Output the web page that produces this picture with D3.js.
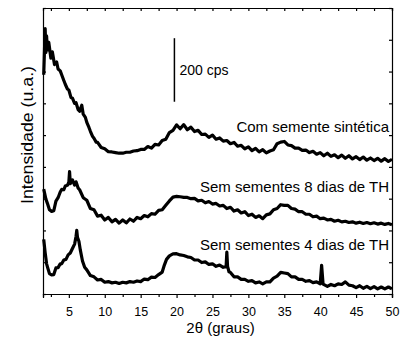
<!DOCTYPE html>
<html>
<head>
<meta charset="utf-8">
<script src="https://cdn.jsdelivr.net/npm/d3@7"></script>
<style>
  body { margin: 0; background: #fff; }
  svg { display: block; font-family: "Liberation Sans", Arial, sans-serif; }
  .axis path, .axis line { stroke: #000; stroke-width: 1.2; }
  .axis text { font-size: 12.5px; fill: #000; }
</style>
</head>
<body>
<script>
// 2theta (graus) vs intensidade (cps)
var comSemente = [
  [1.5, 690], [1.7, 835], [1.8, 760], [1.9, 812], [2.0, 768], [2.2, 792], [2.5, 742], [2.7, 762],
  [3.0, 722], [3.3, 730], [3.5, 708], [3.8, 702], [4.0, 690], [4.3, 672], [4.5, 660], [4.8, 645],
  [5.0, 642], [5.3, 618], [5.5, 616], [5.8, 600], [6.0, 602], [6.3, 580], [6.5, 575], [6.8, 594],
  [7.0, 566], [7.3, 556], [7.5, 540], [7.8, 524], [8.0, 512], [8.3, 496], [8.5, 490], [8.8, 478],
  [9.0, 477], [9.5, 461], [10, 457], [10.5, 448], [11, 447], [11.5, 445], [12, 443], [12.5, 443],
  [13, 446], [13.5, 446], [14, 450], [14.5, 451], [15, 455], [15.5, 455], [16, 464], [16.5, 459],
  [17, 471], [17.5, 469], [18, 483], [18.5, 487], [19, 508], [19.5, 515], [20, 532], [20.5, 520],
  [21, 533], [21.5, 517], [22, 525], [22.5, 511], [23, 515], [23.5, 502], [24, 503], [24.5, 493],
  [25, 500], [25.5, 487], [26, 491], [26.5, 481], [27, 483], [27.5, 473], [28, 477], [28.5, 465],
  [29, 468], [29.5, 457], [30, 463], [30.5, 451], [31, 458], [31.5, 447], [32, 454], [32.5, 444],
  [33, 450], [33.5, 454], [34, 473], [34.5, 478], [35, 480], [35.5, 469], [36, 467], [36.5, 459],
  [37, 459], [37.5, 452], [38, 453], [38.5, 445], [39, 449], [39.5, 440], [40, 445], [40.5, 435],
  [41, 443], [41.5, 433], [42, 438], [42.5, 429], [43, 437], [43.5, 427], [44, 435], [44.5, 425],
  [45, 432], [45.5, 423], [46, 431], [46.5, 421], [47, 428], [47.5, 420], [48, 427], [48.5, 418],
  [49, 426], [49.5, 417], [50, 424]
];

var semSementes8 = [
  [1.5, 330], [1.8, 299], [2.0, 286], [2.3, 265], [2.6, 260], [2.9, 262], [3.2, 292], [3.5, 303],
  [3.8, 321], [4.0, 329], [4.3, 328], [4.5, 340], [4.8, 342], [5.0, 352], [5.1, 385], [5.2, 347],
  [5.5, 359], [5.8, 343], [6.0, 353], [6.3, 333], [6.5, 328], [7.0, 303], [7.5, 295], [8.0, 269],
  [8.5, 265], [9.0, 245], [9.5, 248], [10, 233], [10.5, 241], [11, 227], [11.5, 235], [12, 223],
  [12.5, 233], [13, 224], [13.5, 236], [14, 229], [14.5, 241], [15, 237], [15.5, 247], [16, 243],
  [16.5, 253], [17, 251], [17.5, 263], [18, 265], [18.5, 279], [19, 293], [19.5, 305], [20, 307],
  [20.5, 306], [21, 304], [21.5, 304], [22, 300], [22.5, 301], [23, 293], [23.5, 295], [24, 287],
  [24.5, 291], [25, 283], [25.5, 285], [26, 277], [26.5, 279], [27, 269], [27.5, 273], [28, 261],
  [28.5, 265], [29, 255], [29.5, 259], [30, 247], [30.5, 251], [31, 241], [31.5, 246], [32, 237],
  [32.5, 249], [33, 252], [33.5, 265], [34, 269], [34.5, 281], [35, 279], [35.5, 279], [36, 269],
  [36.5, 267], [37, 259], [37.5, 259], [38, 251], [38.5, 251], [39, 243], [39.5, 245], [40, 237],
  [40.5, 239], [41, 233], [41.5, 235], [42, 229], [42.5, 232], [43, 227], [43.5, 229], [44, 225],
  [44.5, 227], [45, 223], [45.5, 226], [46, 222], [46.5, 225], [47, 221], [47.5, 224], [48, 220],
  [48.5, 223], [49, 219], [49.5, 222], [50, 218]
];

var semSementes4 = [
  [1.5, 172], [1.7, 130], [1.9, 95], [2.1, 79], [2.3, 64], [2.6, 60], [2.9, 61], [3.2, 82],
  [3.5, 83], [3.8, 95], [4.0, 95], [4.3, 107], [4.6, 109], [4.9, 123], [5.2, 129], [5.5, 143],
  [5.8, 157], [6.0, 181], [6.1, 200], [6.2, 178], [6.4, 166], [6.6, 138], [6.9, 104], [7.2, 84],
  [7.5, 76], [8.0, 58], [8.5, 54], [9.0, 44], [9.5, 46], [10, 37], [10.5, 39], [11, 35],
  [11.5, 37], [12, 33], [12.5, 37], [13, 35], [13.5, 39], [14, 37], [14.5, 41], [15, 39],
  [15.5, 47], [16, 45], [16.5, 53], [17, 52], [17.5, 61], [18, 69], [18.3, 91], [18.6, 109],
  [19, 120], [19.5, 126], [20, 127], [20.5, 123], [21, 121], [21.5, 117], [22, 115], [22.5, 107],
  [23, 107], [23.5, 99], [24, 101], [24.5, 93], [25, 95], [25.5, 87], [26, 91], [26.5, 84],
  [26.9, 86], [27.0, 132], [27.1, 87], [27.3, 70], [27.5, 68], [28, 54], [28.5, 54], [29, 46],
  [29.5, 46], [30, 40], [30.5, 42], [31, 35], [31.5, 38], [32, 32], [32.5, 38], [33, 38],
  [33.5, 50], [34, 56], [34.5, 68], [35, 66], [35.5, 64], [36, 54], [36.5, 54], [37, 46],
  [37.5, 46], [38, 40], [38.5, 42], [39, 36], [39.5, 38], [40, 32], [40.2, 90], [40.4, 31],
  [41, 24], [41.5, 30], [42, 26], [42.5, 32], [43, 30], [43.5, 38], [44, 28], [44.5, 26],
  [45, 20], [45.5, 26], [46, 18], [46.5, 24], [47, 17], [47.5, 23], [48, 16], [48.5, 22],
  [49, 16], [49.5, 22], [50, 16]
];

var seriesNames = ["Com semente sintética", "Sem sementes 8 dias de TH", "Sem sementes 4 dias de TH"];
var labelCps = [510, 321, 138]; // baseline of each label, in cps
var majorTicks = [5, 10, 15, 20, 25, 30, 35, 40, 45, 50];
var minorTicks = [2.5, 7.5, 12.5, 17.5, 22.5, 27.5, 32.5, 37.5, 42.5, 47.5];
var yTicks = [0, 100, 200, 300, 400, 500, 600, 700, 800, 900];
var scaleBar = [19.7, 605, 805]; // 2theta, from cps, to cps

var width = 406,
  height = 341,
  margin = { top: 8, right: 14, bottom: 47, left: 43 };

var svg = d3
  .select("body")
  .append("svg")
  .attr("width", width)
  .attr("height", height);

var x = d3
  .scaleLinear()
  .domain([1.4, 50])
  .range([margin.left, width - margin.right]);

var y = d3
  .scaleLinear()
  .domain([0, 900])
  .range([height - margin.bottom, margin.top]);

var line = d3
  .line()
  .x(function(d) {
    return x(d[0]);
  })
  .y(function(d) {
    return y(d[1]);
  });

// traces
[comSemente, semSementes8, semSementes4].forEach(function(s) {
  svg
    .append("path")
    .datum(s)
    .attr("d", line)
    .attr("fill", "none")
    .attr("stroke", "#000")
    .attr("stroke-width", 3.2)
    .attr("stroke-linejoin", "round");
});

// axes
var bottom = height - margin.bottom;
svg
  .append("g")
  .attr("class", "axis")
  .attr("transform", "translate(0," + bottom + ")")
  .call(d3.axisBottom(x).tickValues(majorTicks).tickSize(4).tickPadding(9).tickFormat(d3.format("d")));
svg
  .append("g")
  .attr("class", "axis")
  .attr("transform", "translate(0," + bottom + ")")
  .call(d3.axisBottom(x).tickValues(minorTicks).tickSize(3).tickFormat(""));
svg
  .append("g")
  .attr("class", "axis")
  .attr("transform", "translate(0," + margin.top + ")")
  .call(d3.axisTop(x).tickValues(majorTicks.concat(minorTicks)).tickSize(-3).tickFormat(""));
svg
  .append("g")
  .attr("class", "axis")
  .attr("transform", "translate(" + margin.left + ",0)")
  .call(d3.axisLeft(y).tickValues(yTicks).tickSize(-3).tickFormat(""));
svg
  .append("g")
  .attr("class", "axis")
  .attr("transform", "translate(" + (width - margin.right) + ",0)")
  .call(d3.axisRight(y).tickValues(yTicks).tickSize(-3).tickFormat(""));

svg.selectAll(".axis .domain").attr("stroke-width", 1.3);

// series labels
seriesNames.forEach(function(name, i) {
  svg
    .append("text")
    .attr("x", x(50) - 3)
    .attr("y", y(labelCps[i]))
    .attr("text-anchor", "end")
    .style("font-size", "15px")
    .text(name);
});

// 200 cps scale bar
svg
  .append("line")
  .attr("x1", x(scaleBar[0]))
  .attr("x2", x(scaleBar[0]))
  .attr("y1", y(scaleBar[1]))
  .attr("y2", y(scaleBar[2]))
  .attr("stroke", "#000")
  .attr("stroke-width", 1.5);
svg
  .append("text")
  .attr("x", x(scaleBar[0]) + 5)
  .attr("y", y((scaleBar[1] + scaleBar[2]) / 2) + 5)
  .style("font-size", "14px")
  .text("200 cps");

// axis titles
svg
  .append("text")
  .attr("x", (x.range()[0] + x.range()[1]) / 2 + 3)
  .attr("y", 333)
  .attr("text-anchor", "middle")
  .style("font-size", "15px")
  .text("2θ (graus)");
svg
  .append("text")
  .attr("transform", "translate(33,135) rotate(-90)")
  .attr("text-anchor", "middle")
  .style("font-size", "16px")
  .attr("textLength", 138)
  .attr("lengthAdjust", "spacingAndGlyphs")
  .text("Intensidade (u.a.)");
</script>
</body>
</html>
